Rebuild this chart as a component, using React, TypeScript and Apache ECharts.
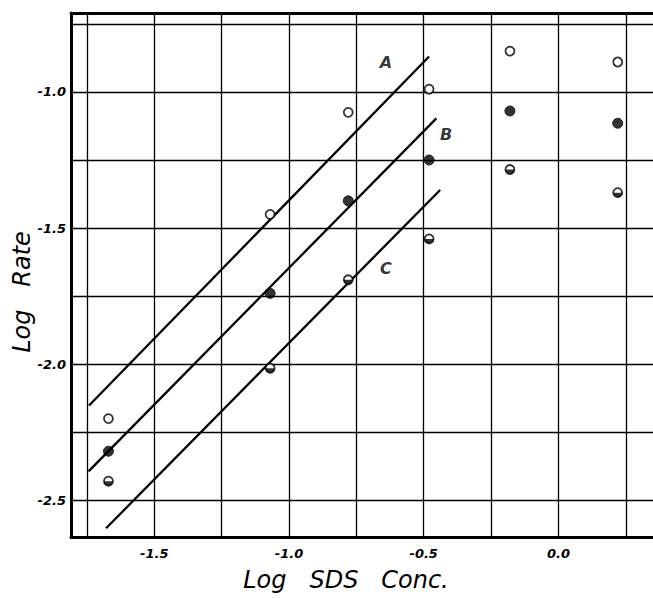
import React, { useEffect, useRef } from "react";
import * as echarts from "echarts";

// Log SDS concentration of each measured column of points
const concX = [-1.67, -1.07, -0.78, -0.48, -0.18, 0.22];
// Log rate values: open circles (A), filled circles (B), half-filled circles (C)
const rateA = [-2.2, -1.45, -1.075, -0.99, -0.85, -0.89];
const rateB = [-2.32, -1.74, -1.4, -1.25, -1.07, -1.115];
const rateC = [-2.43, -2.015, -1.69, -1.54, -1.285, -1.37];

// Fitted straight lines (end points)
const lineA = [[-1.742, -2.152], [-0.48, -0.87]];
const lineB = [[-1.744, -2.394], [-0.453, -1.097]];
const lineC = [[-1.679, -2.603], [-0.439, -1.36]];

// Line labels
const lineLabelNames = ["A", "B", "C"];
const lineLabelX = [-0.64, -0.417, -0.64];
const lineLabelY = [-0.892, -1.158, -1.648];

// Axis ticks
const xGridValues = [-1.75, -1.5, -1.25, -1.0, -0.75, -0.5, -0.25, 0.0, 0.25];
const xTickLabels = [-1.5, -1.0, -0.5, 0.0];
const yGridValues = [-2.5, -2.25, -2.0, -1.75, -1.5, -1.25, -1.0, -0.75];
const yTickLabels = [-2.5, -2.0, -1.5, -1.0];

const FONT = "DejaVu Sans";

export default function App() {
  const ref = useRef<HTMLDivElement>(null);

  useEffect(() => {
    document.body.style.margin = "0";
    if (!ref.current) return;
    const chart = echarts.init(ref.current, undefined, { renderer: "svg" });

    const pts = (ys: number[]) => concX.map((x, i) => [x, ys[i]]);
    const labelStyle = {
      color: "#000",
      fontFamily: FONT,
      fontStyle: "italic" as const,
      fontWeight: "bold" as const,
      fontSize: 13,
    };

    const option: any = {
      animation: false,
      backgroundColor: "#fff",
      grid: {
        left: 71,
        top: 13,
        right: 0,
        height: 524,
        show: false,
        containLabel: false,
      },
      xAxis: [
        {
          type: "value",
          min: -1.809,
          max: 0.351,
          axisLine: { show: true, onZero: false, lineStyle: { color: "#000", width: 3 } },
          axisTick: { show: false, customValues: xGridValues },
          axisLabel: {
            customValues: xTickLabels,
            formatter: (v: number) => v.toFixed(1),
            margin: 10,
            ...labelStyle,
          },
          splitLine: { show: true, lineStyle: { color: "#000", width: 1.3 } },
        },
        {
          type: "value",
          position: "top",
          min: -1.809,
          max: 0.351,
          axisLine: { show: true, onZero: false, lineStyle: { color: "#000", width: 3 } },
          axisTick: { show: false },
          axisLabel: { show: false },
          splitLine: { show: false },
        },
      ],
      yAxis: {
        type: "value",
        min: -2.635,
        max: -0.71,
        axisLine: { show: true, onZero: false, lineStyle: { color: "#000", width: 3 } },
        axisTick: { show: false, customValues: yGridValues },
        axisLabel: {
          customValues: yTickLabels,
          formatter: (v: number) => v.toFixed(1),
          margin: 5,
          ...labelStyle,
        },
        splitLine: { show: true, lineStyle: { color: "#000", width: 1.3 } },
      },
      series: [
        {
          type: "line",
          data: lineA,
          symbol: "none",
          lineStyle: { color: "#000", width: 2.3 },
          z: 3,
        },
        {
          type: "line",
          data: lineB,
          symbol: "none",
          lineStyle: { color: "#000", width: 2.3 },
          z: 3,
        },
        {
          type: "line",
          data: lineC,
          symbol: "none",
          lineStyle: { color: "#000", width: 2.3 },
          z: 3,
        },
        {
          type: "scatter",
          data: pts(rateA),
          symbol: "circle",
          symbolSize: 9,
          itemStyle: { color: "#fff", borderColor: "#000", borderWidth: 1.8 },
          z: 5,
        },
        {
          type: "scatter",
          data: pts(rateB),
          symbol: "circle",
          symbolSize: 10,
          itemStyle: { color: "#000", borderColor: "#000", borderWidth: 1 },
          z: 5,
        },
        {
          type: "scatter",
          data: pts(rateC),
          symbol: "circle",
          symbolSize: 9,
          itemStyle: { color: "#fff", borderColor: "#000", borderWidth: 1.8 },
          z: 5,
        },
        {
          type: "scatter",
          data: pts(rateC),
          symbol: "path://M0,0 A10,10 0 0 0 20,0 Z",
          symbolSize: [9, 4.5],
          symbolOffset: [0, 2.25],
          itemStyle: { color: "#000" },
          z: 6,
        },
        {
          type: "scatter",
          data: lineLabelNames.map((n, i) => [lineLabelX[i], lineLabelY[i], n]),
          symbolSize: 0,
          label: {
            show: true,
            position: "inside",
            formatter: (p: any) => p.value[2],
            color: "#000",
            fontFamily: FONT,
            fontStyle: "italic",
            fontWeight: "bold",
            fontSize: 16,
          },
          z: 7,
        },
      ],
      graphic: [
        {
          type: "text",
          x: 346,
          y: 580,
          style: {
            text: "Log   SDS   Conc.",
            fontFamily: FONT,
            fontStyle: "italic",
            fontSize: 24,
            fill: "#000",
            textAlign: "center",
            textVerticalAlign: "middle",
          },
        },
        {
          type: "text",
          x: 22,
          y: 292,
          rotation: Math.PI / 2,
          style: {
            text: "Log   Rate",
            fontFamily: FONT,
            fontStyle: "italic",
            fontSize: 24,
            fill: "#000",
            textAlign: "center",
            textVerticalAlign: "middle",
          },
        },
      ],
    };

    chart.setOption(option);
    return () => chart.dispose();
  }, []);

  return <div ref={ref} style={{ width: 653, height: 598 }} />;
}
